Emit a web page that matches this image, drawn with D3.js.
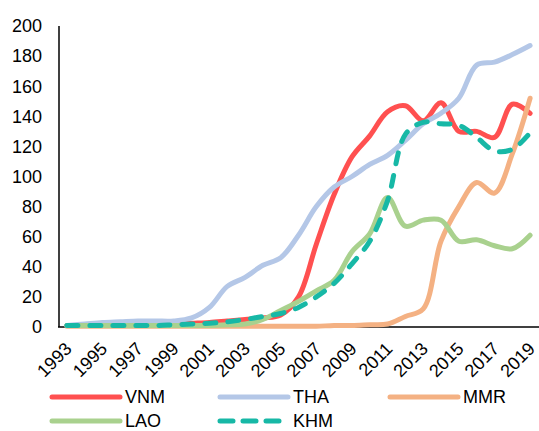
<!DOCTYPE html>
<html>
<head>
<meta charset="utf-8">
<script src="https://cdn.jsdelivr.net/npm/d3@7"></script>
<style>
  body { margin: 0; background: #fff; }
  svg text { font-family: "Liberation Sans", Arial, sans-serif; fill: #000; }
</style>
</head>
<body>
<div class="chart"></div>
<script>
let years = d3.range(1993, 2020);
let yTicks = [0, 20, 40, 60, 80, 100, 120, 140, 160, 180, 200];
let xTickYears = [1993, 1995, 1997, 1999, 2001, 2003, 2005, 2007, 2009, 2011, 2013, 2015, 2017, 2019];

let vnm = [1, 1, 1, 1.5, 1.5, 2, 2, 2.5, 3, 4, 5, 6, 8, 20, 55, 88, 113, 127, 143, 147, 137, 149, 130, 130, 126, 148, 142];
let tha = [1, 2, 3, 3.5, 4, 4, 4, 6, 13, 27, 33, 41, 46, 61, 80, 93, 100, 108, 114, 124, 135, 142, 152, 174, 176, 181, 187];
let mmr = [0.5, 0.5, 0.5, 0.5, 0.5, 0.5, 0.5, 0.5, 0.5, 0.5, 0.5, 0.5, 0.5, 0.5, 0.5, 1, 1, 1.5, 2, 7, 12, 57, 80, 96, 89, 115, 152];
let lao = [1, 1, 1, 1, 1, 1, 1, 1, 1, 1.5, 2, 5, 11, 17, 24, 31, 50, 62, 86, 67, 71, 71, 57, 58, 54, 52, 61];
let khm = [1, 1, 1, 1, 1, 1, 1.5, 2, 2.5, 3.5, 5, 7, 9, 13, 20, 29, 42, 57, 84, 128, 136, 135, 134, 126, 117, 118, 129];

let series = [
  { name: 'VNM', values: vnm, color: '#ff5050', dash: null },
  { name: 'THA', values: tha, color: '#b4c7e7', dash: null },
  { name: 'MMR', values: mmr, color: '#f4b183', dash: null },
  { name: 'LAO', values: lao, color: '#a9d18e', dash: null },
  { name: 'KHM', values: khm, color: '#17b8a6', dash: '11 12' }
];

let width = 539, height = 431;
let svg = d3
  .select('.chart')
  .append('svg')
  .attr('width', width)
  .attr('height', height);

let x = d3.scalePoint().domain(years).range([58, 539]).padding(0.5);
let y = d3.scaleLinear().domain([0, 200]).range([327, 26]);

// y axis labels + line
svg
  .selectAll('.ylab')
  .data(yTicks)
  .enter()
  .append('text')
  .attr('class', 'ylab')
  .attr('x', 42)
  .attr('y', d => y(d))
  .attr('dy', '0.35em')
  .attr('text-anchor', 'end')
  .style('font-size', '18px')
  .text(d => d);

svg.append('line')
  .attr('x1', 59).attr('x2', 59)
  .attr('y1', y(200)).attr('y2', y(0))
  .attr('stroke', '#000').attr('stroke-width', 1.5);

svg.append('line')
  .attr('x1', 58).attr('x2', width)
  .attr('y1', y(0)).attr('y2', y(0))
  .attr('stroke', '#000').attr('stroke-width', 1.5);

// x labels, rotated
svg
  .selectAll('.xlab')
  .data(xTickYears)
  .enter()
  .append('text')
  .attr('class', 'xlab')
  .attr('transform', d => `translate(${x(d) - 3},${y(0) + 14}) rotate(-45)`)
  .attr('text-anchor', 'end')
  .attr('dy', '0.7em')
  .style('font-size', '18px')
  .text(d => d);

let line = d3
  .line()
  .x((d, i) => x(years[i]))
  .y(d => y(d))
  .curve(d3.curveCatmullRom.alpha(0.5));

svg
  .selectAll('.series')
  .data(series)
  .enter()
  .append('path')
  .attr('class', 'series')
  .attr('d', d => line(d.values))
  .attr('fill', 'none')
  .attr('stroke', d => d.color)
  .attr('stroke-width', 5)
  .attr('stroke-linecap', 'round')
  .attr('stroke-linejoin', 'round')
  .attr('stroke-dasharray', d => d.dash);

// legend
let legend = svg
  .selectAll('.legend')
  .data(series)
  .enter()
  .append('g')
  .attr('class', 'legend')
  .attr('transform', (d, i) => `translate(${[52, 220, 390][i % 3]},${i < 3 ? 397 : 421})`);

legend
  .append('line')
  .attr('x1', 0)
  .attr('x2', d => (d.dash ? 64 : 68))
  .attr('stroke', d => d.color)
  .attr('stroke-width', 5)
  .attr('stroke-linecap', 'round')
  .attr('stroke-dasharray', d => (d.dash ? '13 10' : null));

legend
  .append('text')
  .attr('x', 73)
  .attr('dy', '0.35em')
  .style('font-size', '18px')
  .text(d => d.name);
</script>
</body>
</html>
